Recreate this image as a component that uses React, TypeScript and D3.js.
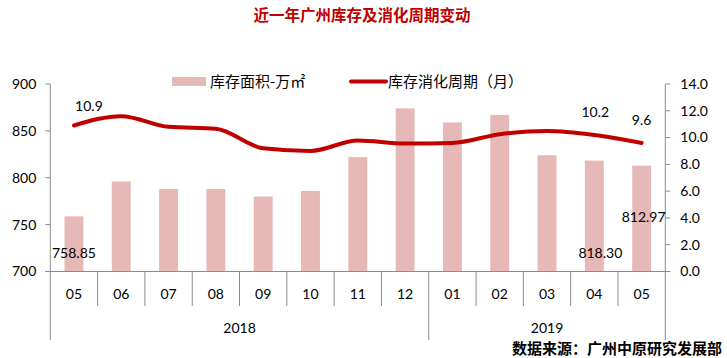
import { useEffect, useRef } from "react";
import * as d3 from "d3";

// chart data
const months = ["05", "06", "07", "08", "09", "10", "11", "12", "01", "02", "03", "04", "05"];
const years = ["2018", "2019"];
const yearSpans = [8, 5]; // number of months per year group
const inventory = [758.85, 796, 788, 788, 780, 786, 822, 874, 859, 867, 824, 818.3, 812.97];
const cycle = [10.9, 11.6, 10.8, 10.65, 9.2, 9.0, 9.78, 9.55, 9.6, 10.25, 10.5, 10.2, 9.6];
const leftTicks = [700, 750, 800, 850, 900];
const rightTicks = [0, 2, 4, 6, 8, 10, 12, 14];

// which points get a label, as [index, text]
const barLabels: [number, string][] = [
	[0, "758.85"],
	[11, "818.30"],
	[12, "812.97"],
];
const lineLabels: [number, string][] = [
	[0, "10.9"],
	[11, "10.2"],
	[12, "9.6"],
];

const W = 727;
const H = 358;
const NUM_FONT = "Lato, 'Noto Sans CJK SC', sans-serif";
const CJK_FONT = "'Noto Sans CJK SC', sans-serif";

function drawChart(el: SVGSVGElement) {
	const svg = d3.select(el);
	svg.selectAll("*").remove();

	const plot = { left: 50.3, right: 665.3, top: 84, bottom: 271.5 };

	const x = d3
		.scaleBand<number>()
		.domain(months.map((_, i) => i))
		.range([plot.left, plot.right])
		.padding(0);
	const yLeft = d3.scaleLinear().domain([700, 900]).range([plot.bottom, plot.top]);
	const yRight = d3.scaleLinear().domain([0, 14]).range([plot.bottom, plot.top]);

	const axisColor = "#8c8c8c";
	const barColor = "#e6b9b8";
	const lineColor = "#c00000";

	// title
	svg
		.append("text")
		.attr("x", 362)
		.attr("y", 16)
		.attr("dy", "0.35em")
		.attr("text-anchor", "middle")
		.attr("font-family", CJK_FONT)
		.attr("font-size", 15.5)
		.attr("font-weight", "bold")
		.attr("fill", lineColor)
		.text("近一年广州库存及消化周期变动");

	// bars
	const barW = x.bandwidth() * 0.4;
	svg
		.append("g")
		.selectAll("rect")
		.data(inventory)
		.enter()
		.append("rect")
		.attr("x", (_, i) => x(i)! + (x.bandwidth() - barW) / 2)
		.attr("y", (d) => yLeft(d))
		.attr("width", barW)
		.attr("height", (d) => plot.bottom - yLeft(d))
		.attr("fill", barColor);

	// left axis
	const gl = svg.append("g");
	gl.append("line")
		.attr("x1", plot.left)
		.attr("x2", plot.left)
		.attr("y1", plot.top)
		.attr("y2", plot.bottom)
		.attr("stroke", axisColor);
	leftTicks.forEach((t) => {
		gl.append("line")
			.attr("x1", plot.left - 5)
			.attr("x2", plot.left)
			.attr("y1", yLeft(t))
			.attr("y2", yLeft(t))
			.attr("stroke", axisColor);
		gl.append("text")
			.attr("x", plot.left - 14)
			.attr("y", yLeft(t))
			.attr("dy", "0.35em")
			.attr("text-anchor", "end")
			.attr("font-family", NUM_FONT)
			.attr("font-size", 14)
			.attr("fill", "#000")
			.text(String(t));
	});

	// right axis
	const gr = svg.append("g");
	gr.append("line")
		.attr("x1", plot.right)
		.attr("x2", plot.right)
		.attr("y1", plot.top)
		.attr("y2", plot.bottom)
		.attr("stroke", axisColor);
	rightTicks.forEach((t) => {
		gr.append("line")
			.attr("x1", plot.right)
			.attr("x2", plot.right + 5)
			.attr("y1", yRight(t))
			.attr("y2", yRight(t))
			.attr("stroke", axisColor);
		gr.append("text")
			.attr("x", plot.right + 15)
			.attr("y", yRight(t))
			.attr("dy", "0.35em")
			.attr("font-family", NUM_FONT)
			.attr("font-size", 14)
			.attr("fill", "#000")
			.text(d3.format(".1f")(t));
	});

	// bottom axis with two-level categories
	const gb = svg.append("g");
	gb.append("line")
		.attr("x1", plot.left - 5)
		.attr("x2", plot.right + 5)
		.attr("y1", plot.bottom)
		.attr("y2", plot.bottom)
		.attr("stroke", axisColor);

	// boundaries between months, longer at year edges
	const yearEdges = new Set<number>();
	let acc = 0;
	yearEdges.add(0);
	yearSpans.forEach((s) => {
		acc += s;
		yearEdges.add(acc);
	});
	for (let i = 0; i <= months.length; i++) {
		const bx = i < months.length ? x(i)! : plot.right;
		gb.append("line")
			.attr("x1", bx)
			.attr("x2", bx)
			.attr("y1", plot.bottom)
			.attr("y2", yearEdges.has(i) ? 340 : 306)
			.attr("stroke", axisColor);
	}
	months.forEach((m, i) => {
		gb.append("text")
			.attr("x", x(i)! + x.bandwidth() / 2)
			.attr("y", 294)
			.attr("dy", "0.35em")
			.attr("text-anchor", "middle")
			.attr("font-family", NUM_FONT)
			.attr("font-size", 14)
			.attr("fill", "#000")
			.text(m);
	});
	let start = 0;
	years.forEach((yr, k) => {
		const end = start + yearSpans[k];
		const x0 = x(start)!;
		const x1 = end < months.length ? x(end)! : plot.right;
		gb.append("text")
			.attr("x", (x0 + x1) / 2)
			.attr("y", 328)
			.attr("dy", "0.35em")
			.attr("text-anchor", "middle")
			.attr("font-family", NUM_FONT)
			.attr("font-size", 14)
			.attr("fill", "#000")
			.text(yr);
		start = end;
	});

	// line
	const line = d3
		.line<number>()
		.x((_, i) => x(i)! + x.bandwidth() / 2)
		.y((d) => yRight(d))
		.curve(d3.curveMonotoneX);
	svg
		.append("path")
		.datum(cycle)
		.attr("d", line)
		.attr("fill", "none")
		.attr("stroke", lineColor)
		.attr("stroke-width", 4)
		.attr("stroke-linecap", "round")
		.attr("stroke-linejoin", "round");

	// data labels
	const barLabelOffset: Record<number, [number, number]> = {
		0: [0, -18],
		11: [6, -18],
		12: [2, -54],
	};
	barLabels.forEach(([i, txt]) => {
		const [dx, dy] = barLabelOffset[i];
		svg.append("text")
			.attr("x", x(i)! + x.bandwidth() / 2 + dx)
			.attr("y", plot.bottom + dy)
			.attr("dy", "0.35em")
			.attr("text-anchor", "middle")
			.attr("font-family", NUM_FONT)
			.attr("font-size", 14)
			.attr("fill", "#000")
			.text(txt);
	});
	const lineLabelOffset: Record<number, [number, number]> = {
		0: [15, -19],
		11: [1, -23],
		12: [0, -23],
	};
	lineLabels.forEach(([i, txt]) => {
		const [dx, dy] = lineLabelOffset[i];
		svg.append("text")
			.attr("x", x(i)! + x.bandwidth() / 2 + dx)
			.attr("y", yRight(cycle[i]) + dy)
			.attr("dy", "0.35em")
			.attr("text-anchor", "middle")
			.attr("font-family", NUM_FONT)
			.attr("font-size", 14)
			.attr("fill", "#000")
			.text(txt);
	});

	// legend
	const lg = svg.append("g");
	lg.append("rect")
		.attr("x", 172)
		.attr("y", 77)
		.attr("width", 34)
		.attr("height", 9)
		.attr("fill", barColor);
	lg.append("text")
		.attr("x", 210)
		.attr("y", 81.5)
		.attr("dy", "0.35em")
		.attr("font-family", CJK_FONT)
		.attr("font-size", 15)
		.attr("fill", "#000")
		.text("库存面积-万㎡");
	lg.append("line")
		.attr("x1", 351)
		.attr("x2", 386)
		.attr("y1", 81.5)
		.attr("y2", 81.5)
		.attr("stroke", lineColor)
		.attr("stroke-width", 4)
		.attr("stroke-linecap", "round");
	lg.append("text")
		.attr("x", 388)
		.attr("y", 81.5)
		.attr("dy", "0.35em")
		.attr("font-family", CJK_FONT)
		.attr("font-size", 15)
		.attr("fill", "#000")
		.text("库存消化周期（月）");

	// source note
	svg
		.append("text")
		.attr("x", 722)
		.attr("y", 349)
		.attr("dy", "0.35em")
		.attr("text-anchor", "end")
		.attr("font-family", CJK_FONT)
		.attr("font-size", 15)
		.attr("font-weight", "bold")
		.attr("fill", "#000")
		.text("数据来源：广州中原研究发展部");
}

export default function App() {
	const ref = useRef<SVGSVGElement>(null);

	useEffect(() => {
		document.body.style.margin = "0";
		if (ref.current) drawChart(ref.current);
	}, []);

	return (
		<div style={{ width: W, height: H, background: "#fff" }}>
			<svg ref={ref} width={W} height={H} style={{ display: "block" }} />
		</div>
	);
}
